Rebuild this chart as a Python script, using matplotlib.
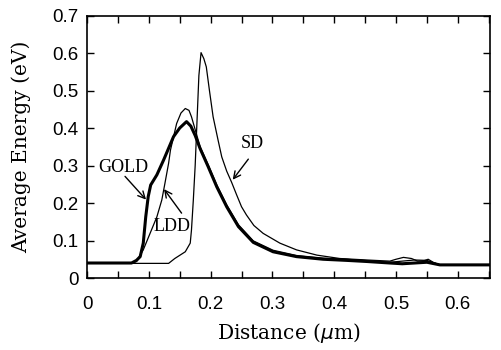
#!/usr/bin/env python3
"""Average carrier energy along the channel for GOLD, LDD and SD devices."""

import numpy as np
import matplotlib
matplotlib.use("Agg")
import matplotlib.pyplot as plt
from matplotlib.ticker import MultipleLocator

# Distance (um) / average energy (eV)
gold_x = [0.0, 0.072, 0.080, 0.086, 0.091, 0.095, 0.099, 0.103, 0.113, 0.124,
          0.140, 0.150, 0.161, 0.168, 0.175, 0.183, 0.196, 0.210, 0.226, 0.245,
          0.269, 0.301, 0.339, 0.382, 0.420, 0.453, 0.490, 0.510, 0.530, 0.550,
          0.571, 0.652]
gold_y = [0.040, 0.040, 0.047, 0.057, 0.093, 0.163, 0.217, 0.248, 0.275, 0.315,
          0.377, 0.400, 0.417, 0.405, 0.380, 0.345, 0.297, 0.243, 0.190, 0.137,
          0.095, 0.070, 0.057, 0.050, 0.047, 0.044, 0.040, 0.038, 0.040, 0.042,
          0.035, 0.035]

ldd_x = [0.0, 0.072, 0.080, 0.091, 0.102, 0.113, 0.121, 0.126, 0.132, 0.135,
         0.145, 0.152, 0.159, 0.165, 0.169, 0.176, 0.183, 0.196, 0.210, 0.226,
         0.245, 0.269, 0.301, 0.339, 0.382, 0.420, 0.453, 0.490, 0.510, 0.530,
         0.550, 0.571, 0.652]
ldd_y = [0.040, 0.040, 0.044, 0.075, 0.119, 0.163, 0.208, 0.252, 0.306, 0.341,
         0.412, 0.440, 0.452, 0.447, 0.430, 0.390, 0.350, 0.302, 0.248, 0.195,
         0.142, 0.099, 0.074, 0.060, 0.053, 0.050, 0.046, 0.042, 0.045, 0.048,
         0.047, 0.035, 0.035]

sd_x = [0.0, 0.132, 0.142, 0.159, 0.167, 0.169, 0.172, 0.175, 0.177, 0.179,
        0.181, 0.1845, 0.189, 0.193, 0.198, 0.204, 0.212, 0.218, 0.226, 0.234,
        0.242, 0.250, 0.258, 0.270, 0.285, 0.312, 0.339, 0.372, 0.409, 0.453,
        0.490, 0.500, 0.512, 0.525, 0.535, 0.545, 0.552, 0.560, 0.571, 0.652]
sd_y = [0.039, 0.039, 0.052, 0.070, 0.093, 0.128, 0.208, 0.300, 0.380, 0.460,
        0.540, 0.601, 0.585, 0.563, 0.501, 0.430, 0.368, 0.323, 0.285, 0.255,
        0.222, 0.190, 0.168, 0.140, 0.119, 0.093, 0.075, 0.061, 0.052, 0.048,
        0.045, 0.050, 0.055, 0.052, 0.045, 0.046, 0.050, 0.042, 0.035, 0.035]

labels = ["GOLD", "LDD", "SD"]
label_xy = [(0.0588, 0.296), (0.137, 0.138), (0.2675, 0.360)]
arrow_tail = [(0.0615, 0.271), (0.153, 0.173), (0.261, 0.317)]
arrow_tip = [(0.0955, 0.209), (0.1246, 0.237), (0.2357, 0.262)]

xticks = [0.0, 0.1, 0.2, 0.3, 0.4, 0.5, 0.6]
xticklabels = ["0", "0.1", "0.2", "0.3", "0.4", "0.5", "0.6"]
yticks = [0.0, 0.1, 0.2, 0.3, 0.4, 0.5, 0.6, 0.7]
yticklabels = ["0", "0.1", "0.2", "0.3", "0.4", "0.5", "0.6", "0.7"]

fig = plt.figure(figsize=(5.01, 3.5), dpi=100)
ax = fig.add_axes([0.1737, 0.2057, 0.8043, 0.75])

ax.plot(sd_x, sd_y, color="black", lw=0.9)
ax.plot(ldd_x, ldd_y, color="black", lw=0.9)
ax.plot(gold_x, gold_y, color="black", lw=2.2)

for name, txy, tail, tip in zip(labels, label_xy, arrow_tail, arrow_tip):
    ax.text(txy[0], txy[1], name, ha="center", va="center",
            family="Liberation Serif", fontsize=13)
    ax.annotate("", xy=tip, xytext=tail,
                arrowprops=dict(arrowstyle="->,head_length=0.5,head_width=0.25",
                                color="black", lw=1.0, shrinkA=0, shrinkB=0))

ax.set_xlim(0, 0.652)
ax.set_ylim(0, 0.7)
ax.set_xticks(xticks)
ax.set_xticklabels(xticklabels)
ax.xaxis.set_minor_locator(MultipleLocator(0.05))
ax.set_yticks(yticks)
ax.set_yticklabels(yticklabels)

ax.tick_params(which="both", direction="in", top=True, right=True,
               length=5, width=1.0)
ax.tick_params(axis="x", which="major", pad=13)
ax.tick_params(axis="y", which="major", pad=6)
for lab in ax.get_xticklabels() + ax.get_yticklabels():
    lab.set_family("Liberation Sans")
    lab.set_fontsize(13.5)
for sp in ax.spines.values():
    sp.set_linewidth(1.2)

ax.set_xlabel("Distance ($\\mu$m)", family="DejaVu Serif", fontsize=14.5,
              labelpad=6)
ax.set_ylabel("Average Energy (eV)", family="DejaVu Serif", fontsize=14.5,
              labelpad=15)

fig.savefig("out.png", dpi=100)
